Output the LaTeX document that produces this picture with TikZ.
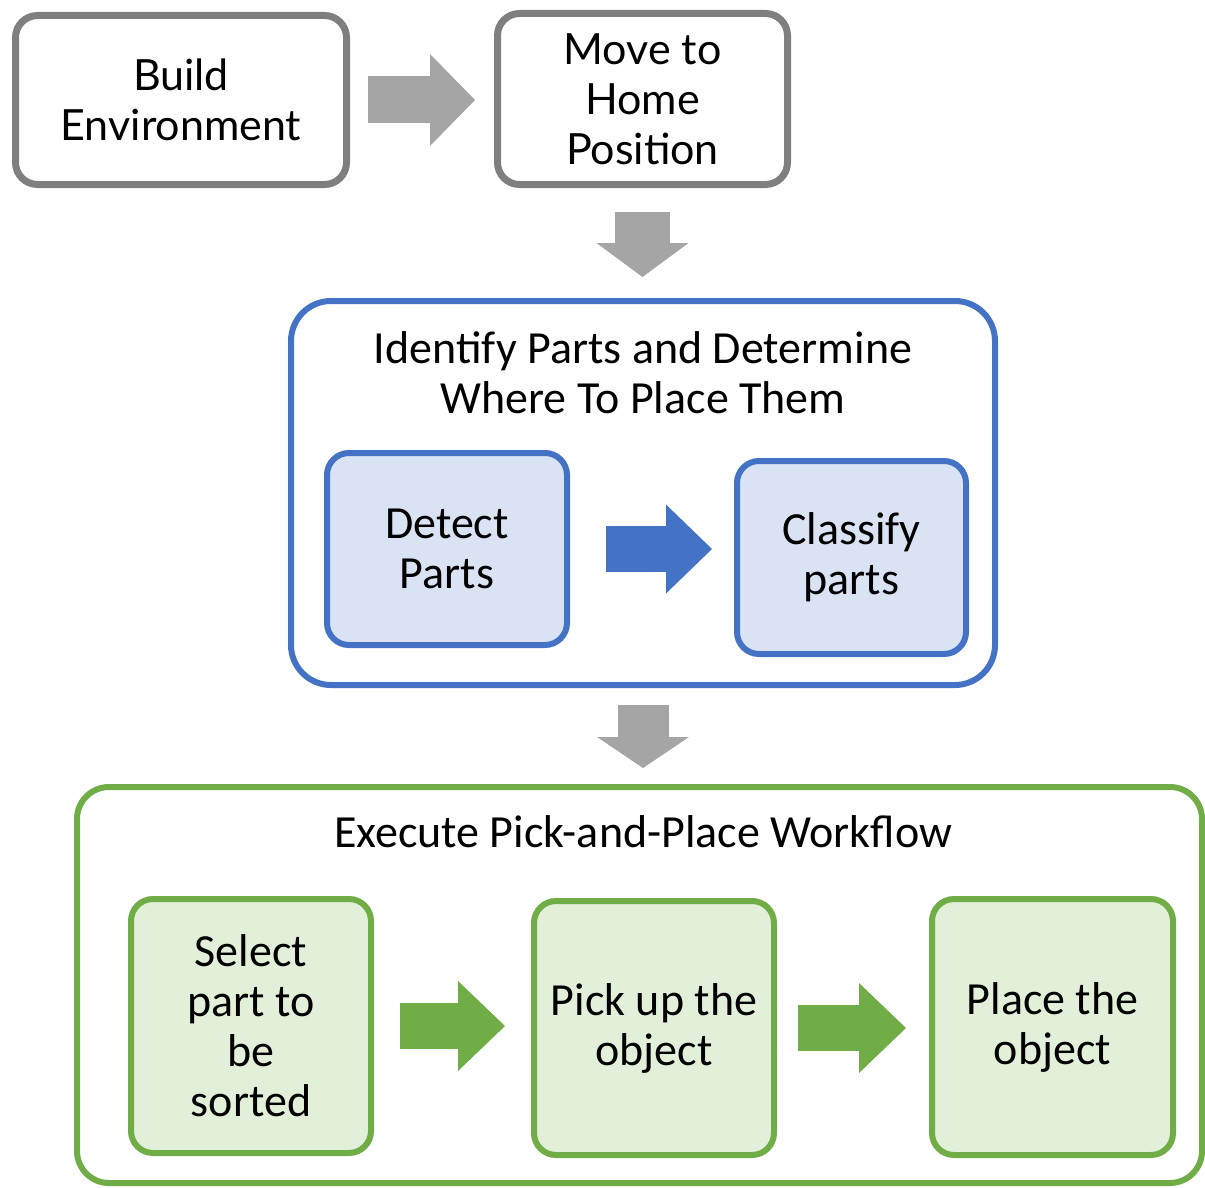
\documentclass[tikz,border=0pt]{standalone}
\usepackage{fontspec}
\setmainfont{Carlito}
\newfontfamily\latofont{Lato}
\usepackage{tikz}
\usetikzlibrary{arrows.meta}
\usetikzlibrary{positioning}
\definecolor{boxgray}{HTML}{7F7F7F}
\definecolor{arrowgray}{HTML}{A5A5A5}
\definecolor{stepblue}{HTML}{4472C4}
\definecolor{paleblue}{HTML}{DAE3F3}
\definecolor{stepgreen}{HTML}{70AD47}
\definecolor{palegreen}{HTML}{E2F0D9}
\tikzset{
graybox/.style = {draw=boxgray, line width=7pt, rounded corners=22pt,
              align=center, inner sep=0pt,
              font=\latofont\fontsize{43}{50}\selectfont},
group/.style = {draw=#1, line width=6pt, rounded corners=40pt, inner sep=0pt},
stepbox/.style 2 args = {draw=#1, fill=#2, line width=6pt, rounded corners=22pt,
              align=center, inner sep=0pt},
title/.style = {align=center, inner sep=0pt},
fatarrow/.style n args = {4}{draw=#1, line width=#2,
              -{Triangle[length=#4, width=#3, line width=0pt]}} % shaft, head width, head length
}
\newcommand{\bigfont}{\fontsize{46}{50}\selectfont}

\begin{document}
\begin{tikzpicture}[x=1pt, y=-1pt, font=\bigfont]
        \useasboundingbox (0,0) rectangle (1205,1188);
        % top row
        \node[graybox, minimum width=331pt, minimum height=169pt] (build) at (181,100) {Build\\Environment};
        \node[graybox, minimum width=290pt, minimum height=171pt] (move) at (642.5,99) {Move to\\Home\\Position};
        % identify group
        \node[group=stepblue, minimum width=704pt, minimum height=384pt] (ident) at (643,493) {};
        \node[title] (identtitle) at (643,373) {Identify Parts and Determine\\Where To Place Them};
        \node[stepbox={stepblue}{paleblue}, minimum width=240pt, minimum height=192pt] (detect) at (447,549) {Detect\\Parts};
        \node[stepbox={stepblue}{paleblue}, minimum width=229pt, minimum height=193pt] (classify) at (851.5,557.5) {Classify\\parts};
        % execute group
        \node[group=stepgreen, rounded corners=32pt, minimum width=1125pt, minimum height=396pt] (exec) at (639.5,985) {};
        \node[title] (exectitle) at (643,832) {Execute Pick-and-Place Workflow};
        \node[stepbox={stepgreen}{palegreen}, minimum width=240pt, minimum height=254pt] (select) at (251,1026) {Select\\part to\\be\\sorted};
        \node[stepbox={stepgreen}{palegreen}, minimum width=240pt, minimum height=254pt] (pickup) at (654,1028) {Pick up the\\object};
        \node[stepbox={stepgreen}{palegreen}, minimum width=241pt, minimum height=256pt] (place) at (1052.5,1027) {Place the\\object};
        % arrows
        \draw[fatarrow={arrowgray}{47pt}{92pt}{45pt}, shorten <=18pt, shorten >=19pt] (build.east) -- (build.east -| move.west);
        \draw[fatarrow={arrowgray}{55pt}{92pt}{34pt}, shorten <=24pt, shorten >=21pt] (move.south) -- (move.south |- ident.north);
        \draw[fatarrow={arrowgray}{51pt}{92pt}{31pt}, shorten <=17pt, shorten >=16pt] (ident.south) -- (ident.south |- exec.north);
        \draw[fatarrow={stepblue}{46pt}{89pt}{46pt}, shorten <=36pt, shorten >=22pt] (detect.east) -- (detect.east -| classify.west);
        \draw[fatarrow={stepgreen}{46pt}{90pt}{47pt}, shorten <=26pt, shorten >=26pt] (select.east) -- (select.east -| pickup.west);
        \draw[fatarrow={stepgreen}{46pt}{90pt}{47pt}, shorten <=21pt, shorten >=23pt] (pickup.east) -- (pickup.east -| place.west);
\end{tikzpicture}
\end{document}
